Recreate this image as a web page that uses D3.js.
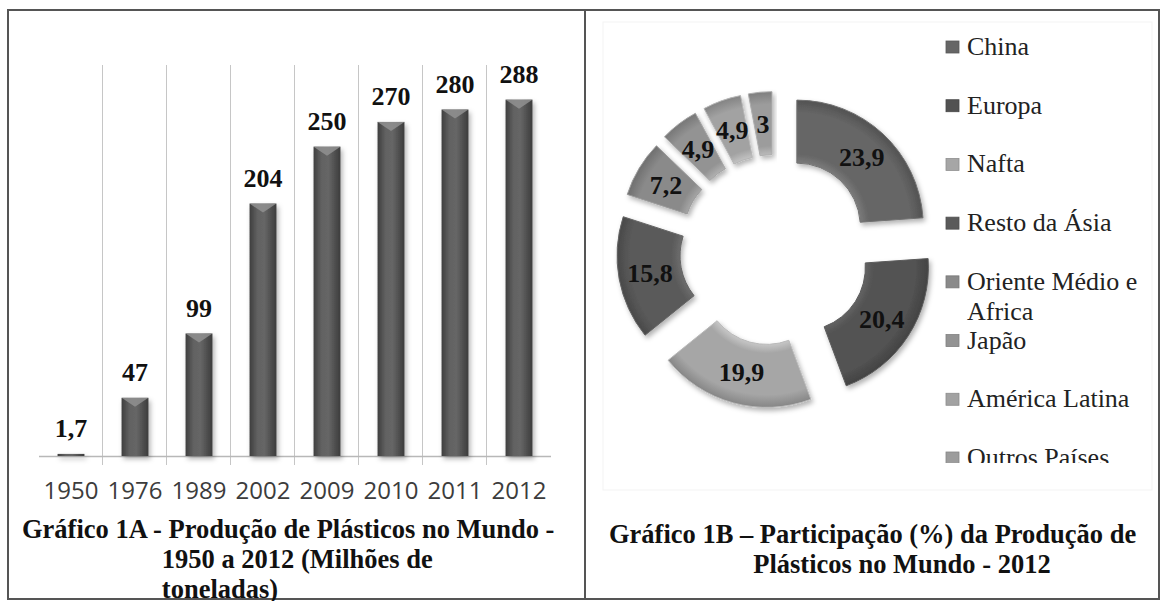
<!DOCTYPE html>
<html>
<head>
<meta charset="utf-8">
<script src="https://cdn.jsdelivr.net/npm/d3@7"></script>
<style>
  body { margin: 0; background: #fff; }
  svg { display: block; }
</style>
</head>
<body>
<div id="chart"></div>
<script>
// Gráfico 1A - production (millions of tonnes)
const years = ["1950", "1976", "1989", "2002", "2009", "2010", "2011", "2012"];
const production = [1.7, 47, 99, 204, 250, 270, 280, 288];

// Gráfico 1B - share (%) in 2012
const regions = ["China", "Europa", "Nafta", "Resto da Ásia", "Oriente Médio e Africa", "Japão", "América Latina", "Outros Países"];
const shares = [23.9, 20.4, 19.9, 15.8, 7.2, 4.9, 4.9, 3];
const regionGrays = ["#666666", "#525252", "#a6a6a6", "#5a5a5a", "#8a8a8a", "#939393", "#a2a2a2", "#9c9c9c"];

const W = 1162, H = 601;
const serif = "'Liberation Serif', 'Times New Roman', serif";
const fmt = v => String(v).replace(".", ",");

const svg = d3.select("#chart").append("svg")
    .attr("width", W)
    .attr("height", H);

const defs = svg.append("defs");

const barGrad = defs.append("linearGradient").attr("id", "barGrad")
    .attr("x1", "0%").attr("x2", "100%").attr("y1", "0%").attr("y2", "0%");
[["0%", "#3e3e3e"], ["30%", "#626262"], ["55%", "#666666"], ["100%", "#3c3c3c"]]
    .forEach(s => barGrad.append("stop").attr("offset", s[0]).attr("stop-color", s[1]));

const shadow = defs.append("filter").attr("id", "shadow")
    .attr("x", "-20%").attr("y", "-20%").attr("width", "140%").attr("height", "140%");
shadow.append("feDropShadow")
    .attr("dx", 2).attr("dy", 3).attr("stdDeviation", 2.5)
    .attr("flood-color", "#000").attr("flood-opacity", 0.3);

// frame
svg.append("rect")
    .attr("x", 8).attr("y", 10)
    .attr("width", 1151).attr("height", 589)
    .attr("fill", "none")
    .attr("stroke", "#555")
    .attr("stroke-width", 2);

svg.append("line")
    .attr("x1", 585).attr("x2", 585)
    .attr("y1", 10).attr("y2", 599)
    .attr("stroke", "#555")
    .attr("stroke-width", 2);

// faint chart area of right panel
svg.append("rect")
    .attr("x", 603).attr("y", 22)
    .attr("width", 549).attr("height", 468)
    .attr("fill", "none")
    .attr("stroke", "#f3f3f3");

// ---------- bar chart ----------
const x = d3.scaleBand()
    .domain(years)
    .range([39, 551])
    .paddingInner(0.58)
    .paddingOuter(0.29);

const y = d3.scaleLinear()
    .domain([0, 316])
    .range([456, 65]);

const step = x.step();

// vertical gridlines between categories
svg.append("g")
    .selectAll("line")
    .data(years.slice(1))
    .enter()
    .append("line")
    .attr("x1", d => x(d) - x.paddingInner() * step / 2 - 0.5)
    .attr("x2", d => x(d) - x.paddingInner() * step / 2 - 0.5)
    .attr("y1", y.range()[1])
    .attr("y2", y(0) + 9)
    .attr("stroke", "#c6c6c6")
    .attr("stroke-width", 1);

svg.append("line")
    .attr("x1", x.range()[0])
    .attr("x2", x.range()[1])
    .attr("y1", y(0) + 0.5)
    .attr("y2", y(0) + 0.5)
    .attr("stroke", "#b8b8b8")
    .attr("stroke-width", 1.5);

const barData = years.map((yr, i) => ({ year: yr, value: production[i] }));

const bars = svg.append("g").attr("filter", "url(#shadow)");

bars.selectAll("rect")
    .data(barData)
    .enter()
    .append("rect")
    .attr("x", d => x(d.year))
    .attr("y", d => y(d.value))
    .attr("width", x.bandwidth())
    .attr("height", d => y(0) - y(d.value))
    .attr("fill", "url(#barGrad)");

// light bevel on top of each bar
svg.append("g")
    .selectAll("path")
    .data(barData.filter(d => y(0) - y(d.value) > 10))
    .enter()
    .append("path")
    .attr("d", d => {
        const x0 = x(d.year), x1 = x0 + x.bandwidth(), t = y(d.value);
        return `M${x0},${t} L${x1},${t} L${x0 + x.bandwidth() / 2},${t + 9} Z`;
    })
    .attr("fill", "#909090")
    .attr("opacity", 0.85);

svg.append("g")
    .selectAll("text")
    .data(barData)
    .enter()
    .append("text")
    .attr("x", d => x(d.year) + x.bandwidth() / 2)
    .attr("y", d => y(d.value) - 17)
    .attr("text-anchor", "middle")
    .style("font-family", serif)
    .style("font-weight", "bold")
    .style("font-size", "26px")
    .attr("fill", "#111")
    .text(d => fmt(d.value));

svg.append("g")
    .selectAll("text")
    .data(years)
    .enter()
    .append("text")
    .attr("x", d => x(d) + x.bandwidth() / 2)
    .attr("y", 499)
    .attr("text-anchor", "middle")
    .style("font-family", "'Open Sans', sans-serif")
    .style("font-size", "24px")
    .attr("fill", "#3c3c3c")
    .text(d => d);

// ---------- doughnut ----------
const cx = 775, cy = 250;
const rOuter = 126.5, rInner = 63.5, explode = 32;

const pie = d3.pie().sort(null).value(d => d)
    .startAngle(0).endAngle(2 * Math.PI);
const arcs = pie(shares);
const arc = d3.arc().innerRadius(rInner).outerRadius(rOuter);

regionGrays.forEach((c, i) => {
    const g = defs.append("radialGradient").attr("id", "slice" + i)
        .attr("gradientUnits", "userSpaceOnUse")
        .attr("cx", 0).attr("cy", 0).attr("r", rOuter);
    const base = d3.color(c);
    [[rInner / rOuter, base.brighter(0.5)], [rInner / rOuter + 0.07, base],
     [0.9, base], [1, base.darker(0.6)]]
        .forEach(s => g.append("stop").attr("offset", s[0]).attr("stop-color", s[1]));
});

const slices = svg.append("g").selectAll("g")
    .data(arcs)
    .enter()
    .append("g")
    .attr("transform", d => {
        const a = (d.startAngle + d.endAngle) / 2;
        return `translate(${cx + explode * Math.sin(a)},${cy - explode * Math.cos(a)})`;
    });

slices.append("path")
    .attr("d", arc)
    .attr("fill", (d, i) => `url(#slice${i})`)
    .attr("stroke", (d, i) => d3.color(regionGrays[i]).brighter(0.3))
    .attr("stroke-width", 1)
    .attr("filter", "url(#shadow)");

slices.append("text")
    .attr("x", d => arc.centroid(d)[0])
    .attr("y", d => arc.centroid(d)[1] + 9)
    .attr("text-anchor", "middle")
    .style("font-family", serif)
    .style("font-weight", "bold")
    .style("font-size", "26px")
    .attr("fill", "#111")
    .text(d => fmt(d.data));

// legend
const legendY = d3.scalePoint().domain(regions).range([47, 458]);

defs.append("clipPath").attr("id", "legendClip")
    .append("rect")
    .attr("x", 930).attr("y", 15)
    .attr("width", 228).attr("height", 448);

const legend = svg.append("g").attr("clip-path", "url(#legendClip)");

const items = legend.selectAll("g")
    .data(regions)
    .enter()
    .append("g")
    .attr("transform", d => `translate(946,${legendY(d)})`);

items.append("rect")
    .attr("x", 0).attr("y", -6)
    .attr("width", 13).attr("height", 12)
    .attr("fill", (d, i) => regionGrays[i])
    .attr("stroke", (d, i) => d3.color(regionGrays[i]).darker(0.4))
    .attr("stroke-width", 0.8);

items.append("text")
    .attr("x", 21)
    .attr("y", 8)
    .style("font-family", serif)
    .style("font-size", "26px")
    .attr("fill", "#222")
    .each(function(d) {
        // wrap long entries onto a second line
        const t = d3.select(this);
        const words = d.split(" ");
        let line = [];
        let ts = t.append("tspan").attr("x", 21);
        words.forEach(w => {
            line.push(w);
            ts.text(line.join(" "));
            if (ts.node().getComputedTextLength() > 190 && line.length > 1) {
                line.pop();
                ts.text(line.join(" "));
                line = [w];
                ts = t.append("tspan").attr("x", 21).attr("dy", 30).text(w);
            }
        });
    });

// ---------- titles ----------
function hangingTitle(x0, y0, label, lines) {
    const t = svg.append("text")
        .attr("x", x0).attr("y", y0)
        .style("font-family", serif)
        .style("font-weight", "bold")
        .style("font-size", "26.5px")
        .attr("fill", "#111");
    const lab = t.append("tspan").text(label);
    const indent = x0 + lab.node().getComputedTextLength();
    lab.text(label + lines[0]);
    lines.slice(1).forEach(l => {
        t.append("tspan").attr("x", indent).attr("dy", 30).text(l);
    });
}

hangingTitle(22, 538, "Gráfico 1A - ",
    ["Produção de Plásticos no Mundo -", "1950 a 2012 (Milhões de", "toneladas)"]);
hangingTitle(609, 543, "Gráfico 1B – ",
    ["Participação (%) da Produção de", "Plásticos no Mundo - 2012"]);
</script>
</body>
</html>
